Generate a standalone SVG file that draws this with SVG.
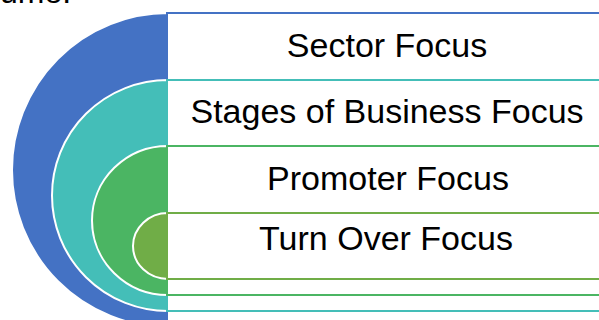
<svg xmlns="http://www.w3.org/2000/svg" width="599" height="320" viewBox="0 0 599 320">
<style>
.arc{stroke:#ffffff;stroke-width:2}
.box{fill:#ffffff;stroke-width:2}
.lbl{font-family:"Liberation Sans",Arial,sans-serif;font-size:34px;fill:#000000;text-anchor:middle}
</style>
<rect width="599" height="320" fill="#ffffff"/>
<text x="0" y="3" style="font-family:'Liberation Sans',Arial,sans-serif;font-size:32px;fill:#000">ume.</text>
<g id="node-sector">
<path class="arc" fill="#4472C4" d="M168,13 A156,157 0 0 0 168,327 Z"/>
<rect class="box" x="167" y="13" width="445" height="320" stroke="#4472C4"/>
</g>
<g id="node-stages">
<path class="arc" fill="#44BEB8" d="M168,80 A116,115.5 0 0 0 168,311 Z"/>
<rect class="box" x="167" y="80" width="445" height="231" stroke="#44BEB8"/>
</g>
<g id="node-promoter">
<path class="arc" fill="#4BB563" d="M168,146 A76,74.5 0 0 0 168,295 Z"/>
<rect class="box" x="167" y="146" width="445" height="149" stroke="#4BB563"/>
</g>
<g id="node-turnover">
<path class="arc" fill="#70AD47" d="M168,213 A35,33 0 0 0 168,279 Z"/>
<rect class="box" x="167" y="213" width="445" height="66" stroke="#70AD47"/>
</g>
<g id="connectors"></g>
<g id="labels">
<text class="lbl" x="387" y="57">Sector Focus</text>
<text class="lbl" x="387" y="123">Stages of Business Focus</text>
<text class="lbl" x="388" y="190">Promoter Focus</text>
<text class="lbl" x="386" y="250">Turn Over Focus</text>
</g>
</svg>
